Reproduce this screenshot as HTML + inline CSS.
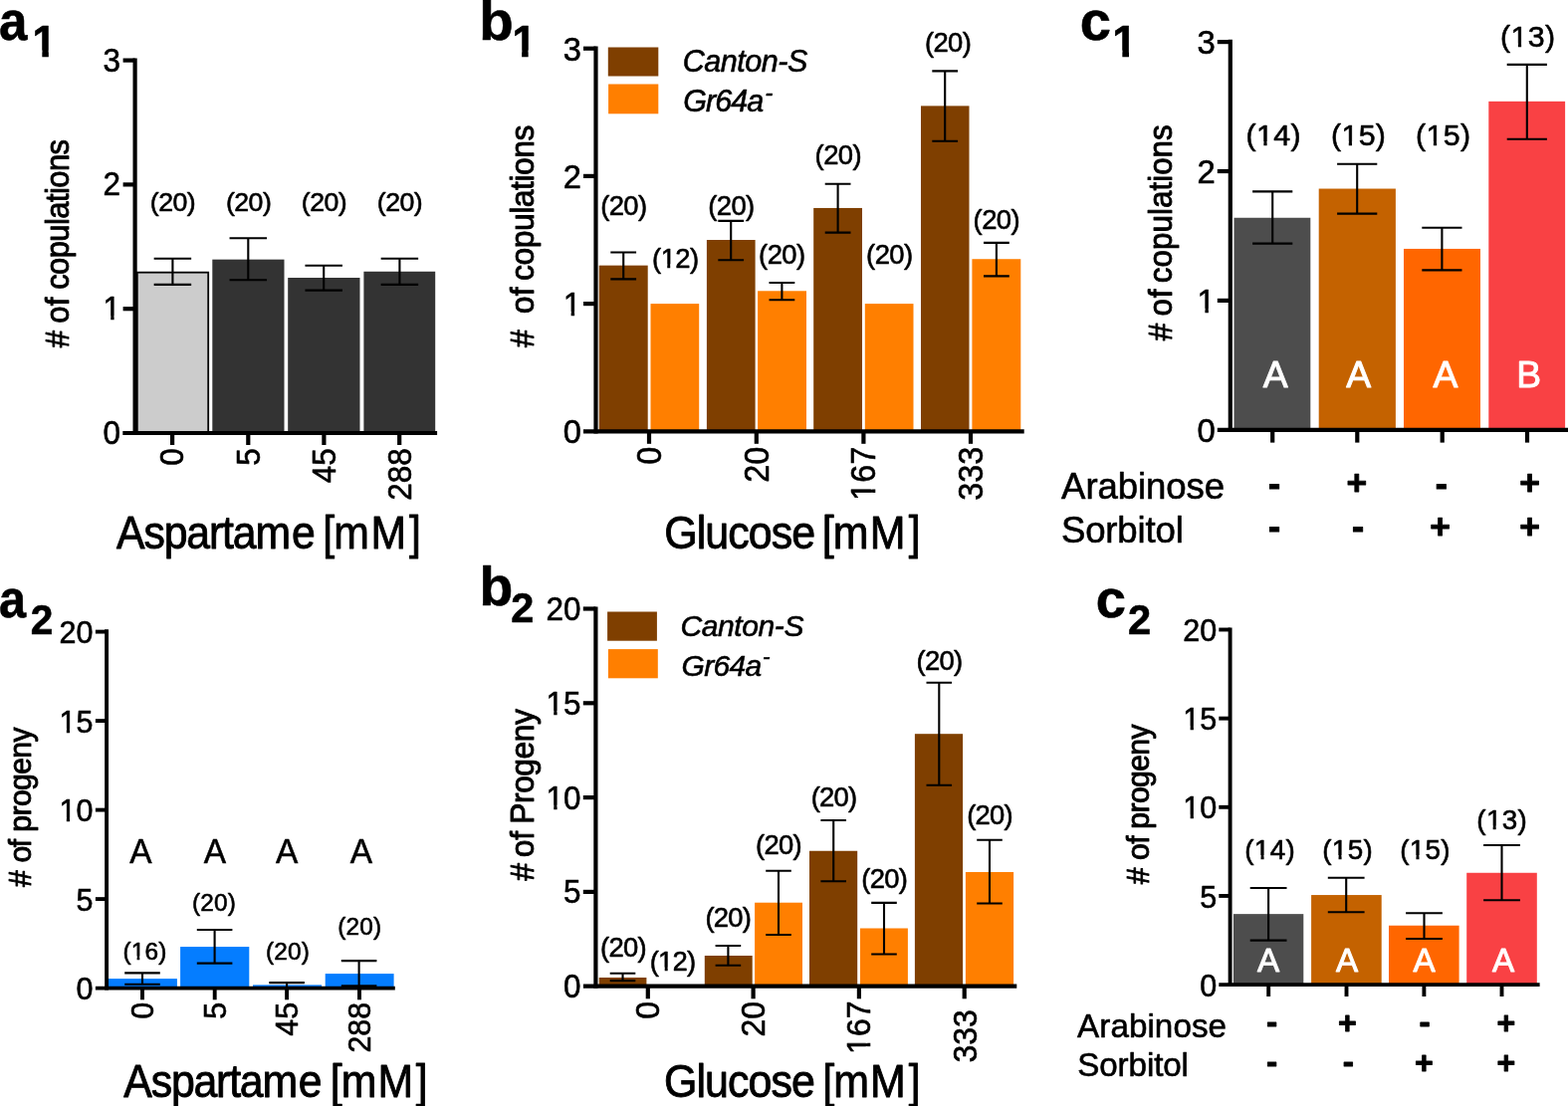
<!DOCTYPE html>
<html lang="en">
<head>
<meta charset="utf-8">
<title>Figure</title>
<style>
html,body{margin:0;padding:0;background:#fff;}
body{width:1575px;height:1111px;overflow:hidden;}
svg{display:block;font-family:'Liberation Sans', sans-serif;}
text{fill:#000;stroke:#000;stroke-linejoin:round;}
text.w{fill:#fff;stroke:#fff;}
</style>
</head>
<body>
<svg width="1575" height="1111" viewBox="0 0 1575 1111" font-family="'Liberation Sans', sans-serif" stroke-width="0.6">
<rect width="1575" height="1111" fill="#fff"/>
<text transform="translate(-1.03 39.80) scale(0.9237 1)" font-size="55.30" font-weight="bold">a</text>
<g transform="translate(32.60 56.60) scale(0.9657 1)"><text font-size="44.50" font-weight="bold">1</text><rect x="1.15" y="-6.11" width="8.93" height="8.11" fill="#fff"/><rect x="16.80" y="-6.11" width="8.35" height="8.11" fill="#fff"/></g>
<rect x="137.80" y="273.66" width="71.40" height="161.34" fill="#cccccc" stroke="#000" stroke-width="1.8"/>
<rect x="213.30" y="260.65" width="72.20" height="174.35" fill="#333333"/>
<rect x="289.20" y="279.00" width="72.30" height="156.00" fill="#333333"/>
<rect x="365.40" y="272.76" width="71.80" height="162.24" fill="#333333"/>
<line x1="135.60" y1="58.50" x2="135.60" y2="437.10" stroke="#000" stroke-width="4.2"/>
<line x1="123.30" y1="435.00" x2="439.10" y2="435.00" stroke="#000" stroke-width="4.2"/>
<line x1="123.60" y1="60.60" x2="135.60" y2="60.60" stroke="#000" stroke-width="4.2"/>
<line x1="123.60" y1="185.40" x2="135.60" y2="185.40" stroke="#000" stroke-width="4.2"/>
<line x1="123.60" y1="310.20" x2="135.60" y2="310.20" stroke="#000" stroke-width="4.2"/>
<line x1="173.10" y1="435.00" x2="173.10" y2="447.00" stroke="#000" stroke-width="4.2"/>
<line x1="249.30" y1="435.00" x2="249.30" y2="447.00" stroke="#000" stroke-width="4.2"/>
<line x1="325.40" y1="435.00" x2="325.40" y2="447.00" stroke="#000" stroke-width="4.2"/>
<line x1="401.20" y1="435.00" x2="401.20" y2="447.00" stroke="#000" stroke-width="4.2"/>
<path d="M154.65 259.70H192.15M154.65 285.90H192.15M173.40 259.70V285.90" fill="none" stroke="#000" stroke-width="2.1"/>
<path d="M230.55 239.20H268.05M230.55 281.30H268.05M249.30 239.20V281.30" fill="none" stroke="#000" stroke-width="2.1"/>
<path d="M306.45 266.70H343.95M306.45 291.60H343.95M325.20 266.70V291.60" fill="none" stroke="#000" stroke-width="2.1"/>
<path d="M382.65 259.70H420.15M382.65 285.90H420.15M401.40 259.70V285.90" fill="none" stroke="#000" stroke-width="2.1"/>
<text transform="translate(150.83 211.70)" font-size="26.70" letter-spacing="-0.533">(20)</text>
<text transform="translate(226.93 211.70)" font-size="26.70" letter-spacing="-0.533">(20)</text>
<text transform="translate(302.83 211.70)" font-size="26.70" letter-spacing="-0.533">(20)</text>
<text transform="translate(378.83 211.70)" font-size="26.70" letter-spacing="-0.533">(20)</text>
<text transform="translate(103.62 71.61) scale(0.9650 1)" font-size="32.60">3</text>
<text transform="translate(103.62 196.41) scale(0.9650 1)" font-size="32.60">2</text>
<g transform="translate(103.62 321.21) scale(0.9650 1)"><text font-size="32.60">1</text><rect x="0.82" y="-3.84" width="7.07" height="5.84" fill="#fff"/><rect x="11.37" y="-3.84" width="6.81" height="5.84" fill="#fff"/></g>
<text transform="translate(103.62 446.01) scale(0.9650 1)" font-size="32.60">0</text>
<text transform="translate(184.31 467.68) rotate(-90) scale(0.9650 1)" font-size="32.60">0</text>
<text transform="translate(260.61 467.68) rotate(-90) scale(0.9650 1)" font-size="32.60">5</text>
<text transform="translate(336.61 485.18) rotate(-90) scale(0.9650 1)" font-size="32.60">45</text>
<text transform="translate(412.51 502.67) rotate(-90) scale(0.9650 1)" font-size="32.60">288</text>
<text transform="translate(69.00 349.20) rotate(-90) scale(0.9500 1)" font-size="32.60" stroke-width="0.9"><tspan># </tspan><tspan x="25.72" letter-spacing="0.337">of </tspan><tspan x="61.41" letter-spacing="-0.598">copulations</tspan></text>
<text transform="translate(117.04 551.00) scale(0.9200 1)" font-size="46.50" stroke-width="0.9"><tspan letter-spacing="-1.236">Aspartam</tspan><tspan x="191.29">e </tspan><tspan x="225.23" letter-spacing="-0.897">[m</tspan><tspan x="277.58" letter-spacing="3.170">M]</tspan></text>
<text transform="translate(481.13 40.00) scale(1.0078 1)" font-size="56.00" font-weight="bold">b</text>
<g transform="translate(514.40 56.60) scale(0.9657 1)"><text font-size="44.50" font-weight="bold">1</text><rect x="1.15" y="-6.11" width="8.93" height="8.11" fill="#fff"/><rect x="16.80" y="-6.11" width="8.35" height="8.11" fill="#fff"/></g>
<rect x="601.70" y="266.64" width="49.00" height="166.66" fill="#7f3f00"/>
<rect x="653.50" y="305.10" width="48.70" height="128.20" fill="#ff7f00"/>
<rect x="709.90" y="241.00" width="48.70" height="192.30" fill="#7f3f00"/>
<rect x="761.10" y="292.28" width="48.90" height="141.02" fill="#ff7f00"/>
<rect x="817.20" y="208.95" width="48.80" height="224.35" fill="#7f3f00"/>
<rect x="868.80" y="305.10" width="48.70" height="128.20" fill="#ff7f00"/>
<rect x="925.00" y="106.39" width="48.50" height="326.91" fill="#7f3f00"/>
<rect x="976.40" y="260.23" width="48.90" height="173.07" fill="#ff7f00"/>
<line x1="598.50" y1="46.40" x2="598.50" y2="435.40" stroke="#000" stroke-width="4.2"/>
<line x1="586.00" y1="433.30" x2="1028.70" y2="433.30" stroke="#000" stroke-width="4.2"/>
<line x1="586.00" y1="48.70" x2="598.50" y2="48.70" stroke="#000" stroke-width="4.2"/>
<line x1="586.00" y1="176.90" x2="598.50" y2="176.90" stroke="#000" stroke-width="4.2"/>
<line x1="586.00" y1="305.10" x2="598.50" y2="305.10" stroke="#000" stroke-width="4.2"/>
<line x1="652.00" y1="433.30" x2="652.00" y2="445.80" stroke="#000" stroke-width="4.2"/>
<line x1="759.80" y1="433.30" x2="759.80" y2="445.80" stroke="#000" stroke-width="4.2"/>
<line x1="867.40" y1="433.30" x2="867.40" y2="445.80" stroke="#000" stroke-width="4.2"/>
<line x1="975.00" y1="433.30" x2="975.00" y2="445.80" stroke="#000" stroke-width="4.2"/>
<path d="M613.30 253.50H639.10M613.30 280.40H639.10M626.20 253.50V280.40" fill="none" stroke="#000" stroke-width="2.1"/>
<path d="M721.30 221.90H747.10M721.30 261.20H747.10M734.20 221.90V261.20" fill="none" stroke="#000" stroke-width="2.1"/>
<path d="M772.50 284.00H798.30M772.50 301.30H798.30M785.40 284.00V301.30" fill="none" stroke="#000" stroke-width="2.1"/>
<path d="M828.70 184.70H854.50M828.70 233.60H854.50M841.60 184.70V233.60" fill="none" stroke="#000" stroke-width="2.1"/>
<path d="M936.30 71.40H962.10M936.30 141.80H962.10M949.20 71.40V141.80" fill="none" stroke="#000" stroke-width="2.1"/>
<path d="M988.00 243.90H1013.80M988.00 277.40H1013.80M1000.90 243.90V277.40" fill="none" stroke="#000" stroke-width="2.1"/>
<text transform="translate(603.19 216.00)" font-size="27.40" letter-spacing="-0.586">(20)</text>
<g transform="translate(655.09 268.80)"><text font-size="27.40" letter-spacing="-0.586">(12)</text><rect x="9.02" y="-3.44" width="6.12" height="5.44" fill="#fff"/><rect x="18.13" y="-3.44" width="5.90" height="5.44" fill="#fff"/></g>
<text transform="translate(711.29 216.00)" font-size="27.40" letter-spacing="-0.586">(20)</text>
<text transform="translate(762.09 265.20)" font-size="27.40" letter-spacing="-0.586">(20)</text>
<text transform="translate(818.59 164.70)" font-size="27.40" letter-spacing="-0.586">(20)</text>
<text transform="translate(870.09 265.00)" font-size="27.40" letter-spacing="-0.586">(20)</text>
<text transform="translate(928.89 52.00)" font-size="27.40" letter-spacing="-0.586">(20)</text>
<text transform="translate(977.59 230.40)" font-size="27.40" letter-spacing="-0.586">(20)</text>
<text transform="translate(565.73 60.53) scale(0.9650 1)" font-size="33.80">3</text>
<text transform="translate(565.73 188.73) scale(0.9650 1)" font-size="33.80">2</text>
<g transform="translate(565.73 316.93) scale(0.9650 1)"><text font-size="33.80">1</text><rect x="0.91" y="-3.94" width="7.28" height="5.94" fill="#fff"/><rect x="11.78" y="-3.94" width="7.01" height="5.94" fill="#fff"/></g>
<text transform="translate(565.73 445.13) scale(0.9650 1)" font-size="33.80">0</text>
<text transform="translate(663.84 466.75) rotate(-90) scale(0.9250 1)" font-size="35.00">0</text>
<text transform="translate(771.64 484.76) rotate(-90) scale(0.9250 1)" font-size="35.00">20</text>
<g transform="translate(878.84 502.76) rotate(-90) scale(0.9250 1)"><text font-size="35.00">167</text><rect x="0.93" y="-4.03" width="7.55" height="6.03" fill="#fff"/><rect x="12.20" y="-4.03" width="7.27" height="6.03" fill="#fff"/></g>
<text transform="translate(986.84 502.76) rotate(-90) scale(0.9250 1)" font-size="35.00">333</text>
<rect x="610.80" y="47.50" width="50.50" height="29.00" fill="#7f3f00"/>
<rect x="611.10" y="84.50" width="50.20" height="29.80" fill="#ff7f00"/>
<text transform="translate(685.72 71.90)" font-size="30.50" letter-spacing="-0.473" font-style="italic">Canton-S</text>
<text transform="translate(686.27 112.10)" font-size="30.50" font-style="italic"><tspan letter-spacing="-0.955">Gr64a</tspan><tspan x="82.20" dy="-11.20" font-size="23.30">-</tspan></text>
<text transform="translate(535.50 348.91) rotate(-90) scale(0.9500 1)" font-size="33.60" stroke-width="0.9"><tspan># </tspan><tspan x="35.48" letter-spacing="0.280">of </tspan><tspan x="70.53" letter-spacing="-0.539">copulations</tspan></text>
<text transform="translate(667.20 551.00) scale(0.9200 1)" font-size="46.70" stroke-width="0.9"><tspan letter-spacing="-1.031">Glucose </tspan><tspan x="172.22" letter-spacing="-0.766">[m</tspan><tspan x="224.46" letter-spacing="3.631">M]</tspan></text>
<text transform="translate(1084.75 40.20) scale(1.0127 1)" font-size="55.50" font-weight="bold">c</text>
<g transform="translate(1117.31 56.70) scale(0.9954 1)"><text font-size="44.50" font-weight="bold">1</text><rect x="1.20" y="-6.11" width="8.89" height="8.11" fill="#fff"/><rect x="16.79" y="-6.11" width="8.31" height="8.11" fill="#fff"/></g>
<rect x="1239.50" y="218.76" width="76.80" height="213.04" fill="#4d4d4d"/>
<rect x="1324.70" y="189.54" width="77.20" height="242.26" fill="#c46200"/>
<rect x="1410.00" y="249.94" width="77.00" height="181.86" fill="#ff6600"/>
<rect x="1495.30" y="101.85" width="76.80" height="329.95" fill="#f94144"/>
<line x1="1235.80" y1="39.70" x2="1235.80" y2="433.90" stroke="#000" stroke-width="4.2"/>
<line x1="1222.80" y1="431.80" x2="1575.00" y2="431.80" stroke="#000" stroke-width="4.2"/>
<line x1="1222.80" y1="42.10" x2="1235.80" y2="42.10" stroke="#000" stroke-width="4.2"/>
<line x1="1222.80" y1="172.00" x2="1235.80" y2="172.00" stroke="#000" stroke-width="4.2"/>
<line x1="1222.80" y1="301.90" x2="1235.80" y2="301.90" stroke="#000" stroke-width="4.2"/>
<line x1="1278.20" y1="431.80" x2="1278.20" y2="444.60" stroke="#000" stroke-width="4.2"/>
<line x1="1363.30" y1="431.80" x2="1363.30" y2="444.60" stroke="#000" stroke-width="4.2"/>
<line x1="1448.70" y1="431.80" x2="1448.70" y2="444.60" stroke="#000" stroke-width="4.2"/>
<line x1="1534.00" y1="431.80" x2="1534.00" y2="444.60" stroke="#000" stroke-width="4.2"/>
<path d="M1258.10 192.40H1298.30M1258.10 244.60H1298.30M1278.20 192.40V244.60" fill="none" stroke="#000" stroke-width="2.1"/>
<path d="M1343.10 164.70H1383.30M1343.10 214.60H1383.30M1363.20 164.70V214.60" fill="none" stroke="#000" stroke-width="2.1"/>
<path d="M1428.30 228.80H1468.50M1428.30 271.40H1468.50M1448.40 228.80V271.40" fill="none" stroke="#000" stroke-width="2.1"/>
<path d="M1513.70 64.90H1553.90M1513.70 139.80H1553.90M1533.80 64.90V139.80" fill="none" stroke="#000" stroke-width="2.1"/>
<g transform="translate(1251.61 145.70)"><text font-size="30.30" letter-spacing="0.348">(14)</text><rect x="11.14" y="-3.66" width="6.62" height="5.66" fill="#fff"/><rect x="21.02" y="-3.66" width="6.38" height="5.66" fill="#fff"/></g>
<g transform="translate(1337.01 145.70)"><text font-size="30.30" letter-spacing="0.348">(15)</text><rect x="11.14" y="-3.66" width="6.62" height="5.66" fill="#fff"/><rect x="21.02" y="-3.66" width="6.38" height="5.66" fill="#fff"/></g>
<g transform="translate(1422.11 145.70)"><text font-size="30.30" letter-spacing="0.348">(15)</text><rect x="11.14" y="-3.66" width="6.62" height="5.66" fill="#fff"/><rect x="21.02" y="-3.66" width="6.38" height="5.66" fill="#fff"/></g>
<g transform="translate(1507.11 47.30)"><text font-size="30.30" letter-spacing="0.348">(13)</text><rect x="11.14" y="-3.66" width="6.62" height="5.66" fill="#fff"/><rect x="21.02" y="-3.66" width="6.38" height="5.66" fill="#fff"/></g>
<text transform="translate(1268.75 389.00)" font-size="37.30" class="w" stroke-width="0.9">A</text>
<text transform="translate(1352.35 389.00)" font-size="37.30" class="w" stroke-width="0.9">A</text>
<text transform="translate(1439.55 389.00)" font-size="37.30" class="w" stroke-width="0.9">A</text>
<text transform="translate(1523.29 389.00)" font-size="37.30" class="w" stroke-width="0.9">B</text>
<text transform="translate(1202.43 54.00) scale(0.9650 1)" font-size="34.00">3</text>
<text transform="translate(1202.43 183.90) scale(0.9650 1)" font-size="34.00">2</text>
<g transform="translate(1202.43 313.80) scale(0.9650 1)"><text font-size="34.00">1</text><rect x="0.93" y="-3.95" width="7.32" height="5.95" fill="#fff"/><rect x="11.85" y="-3.95" width="7.05" height="5.95" fill="#fff"/></g>
<text transform="translate(1202.43 443.70) scale(0.9650 1)" font-size="34.00">0</text>
<text transform="translate(1066.11 501.40)" font-size="36.60" letter-spacing="-0.103">Arabinose</text>
<text transform="translate(1065.95 544.90)" font-size="36.60" letter-spacing="-0.171">Sorbitol</text>
<text transform="translate(1273.94 498.27)" font-size="36.44" font-weight="bold" style="stroke-width:1.0px">-</text>
<text transform="translate(1352.55 497.07)" font-size="35.40" font-weight="bold" style="stroke-width:0.9px">+</text>
<text transform="translate(1441.64 498.27)" font-size="36.44" font-weight="bold" style="stroke-width:1.0px">-</text>
<text transform="translate(1526.15 497.07)" font-size="35.40" font-weight="bold" style="stroke-width:0.9px">+</text>
<text transform="translate(1273.94 540.97)" font-size="36.44" font-weight="bold" style="stroke-width:1.0px">-</text>
<text transform="translate(1357.94 540.97)" font-size="36.44" font-weight="bold" style="stroke-width:1.0px">-</text>
<text transform="translate(1436.25 540.67)" font-size="35.40" font-weight="bold" style="stroke-width:0.9px">+</text>
<text transform="translate(1526.15 540.67)" font-size="35.40" font-weight="bold" style="stroke-width:0.9px">+</text>
<text transform="translate(1177.00 342.21) rotate(-90) scale(0.9500 1)" font-size="33.00" stroke-width="0.9"><tspan># </tspan><tspan x="26.03" letter-spacing="0.861">of </tspan><tspan x="61.08" letter-spacing="0.044">copulations</tspan></text>
<text transform="translate(-0.96 620.40) scale(0.9091 1)" font-size="53.50" font-weight="bold">a</text>
<text transform="translate(30.68 637.20) scale(0.9626 1)" font-size="42.20" font-weight="bold">2</text>
<rect x="108.90" y="983.11" width="69.00" height="9.49" fill="#057dff"/>
<rect x="181.10" y="951.07" width="69.20" height="41.53" fill="#057dff"/>
<rect x="254.00" y="989.38" width="69.10" height="3.22" fill="#057dff"/>
<rect x="326.70" y="978.10" width="68.90" height="14.50" fill="#057dff"/>
<line x1="107.10" y1="632.35" x2="107.10" y2="994.55" stroke="#000" stroke-width="3.9"/>
<line x1="95.90" y1="992.60" x2="396.80" y2="992.60" stroke="#000" stroke-width="3.9"/>
<line x1="95.90" y1="634.60" x2="107.10" y2="634.60" stroke="#000" stroke-width="3.9"/>
<line x1="95.90" y1="724.10" x2="107.10" y2="724.10" stroke="#000" stroke-width="3.9"/>
<line x1="95.90" y1="813.60" x2="107.10" y2="813.60" stroke="#000" stroke-width="3.9"/>
<line x1="95.90" y1="903.10" x2="107.10" y2="903.10" stroke="#000" stroke-width="3.9"/>
<line x1="143.00" y1="992.60" x2="143.00" y2="1004.30" stroke="#000" stroke-width="3.9"/>
<line x1="215.70" y1="992.60" x2="215.70" y2="1004.30" stroke="#000" stroke-width="3.9"/>
<line x1="288.10" y1="992.60" x2="288.10" y2="1004.30" stroke="#000" stroke-width="3.9"/>
<line x1="361.00" y1="992.60" x2="361.00" y2="1004.30" stroke="#000" stroke-width="3.9"/>
<path d="M125.20 977.40H160.80M125.20 988.70H160.80M143.00 977.40V988.70" fill="none" stroke="#000" stroke-width="2.1"/>
<path d="M197.80 934.00H233.40M197.80 967.60H233.40M215.60 934.00V967.60" fill="none" stroke="#000" stroke-width="2.1"/>
<path d="M270.30 987.10H305.90M270.30 992.00H305.90M288.10 987.10V992.00" fill="none" stroke="#000" stroke-width="2.1"/>
<path d="M342.80 965.10H378.40M342.80 990.30H378.40M360.60 965.10V990.30" fill="none" stroke="#000" stroke-width="2.1"/>
<g transform="translate(123.48 963.60)"><text font-size="24.40" letter-spacing="0.136">(16)</text><rect x="8.52" y="-3.20" width="5.59" height="5.20" fill="#fff"/><rect x="16.84" y="-3.20" width="5.39" height="5.20" fill="#fff"/></g>
<text transform="translate(193.08 915.00)" font-size="24.40" letter-spacing="0.136">(20)</text>
<text transform="translate(266.97 964.20)" font-size="24.40" letter-spacing="0.136">(20)</text>
<text transform="translate(339.27 939.20)" font-size="24.40" letter-spacing="0.136">(20)</text>
<text transform="translate(130.33 866.60) scale(0.9700 1)" font-size="34.50">A</text>
<text transform="translate(204.83 866.60) scale(0.9700 1)" font-size="34.50">A</text>
<text transform="translate(277.03 866.60) scale(0.9700 1)" font-size="34.50">A</text>
<text transform="translate(351.63 866.60) scale(0.9700 1)" font-size="34.50">A</text>
<text transform="translate(59.45 646.10) scale(0.9900 1)" font-size="30.80">20</text>
<g transform="translate(59.45 735.60) scale(0.9900 1)"><text font-size="30.80">15</text><rect x="0.72" y="-3.70" width="6.72" height="5.70" fill="#fff"/><rect x="10.75" y="-3.70" width="6.48" height="5.70" fill="#fff"/></g>
<g transform="translate(59.45 825.10) scale(0.9900 1)"><text font-size="30.80">10</text><rect x="0.72" y="-3.70" width="6.72" height="5.70" fill="#fff"/><rect x="10.75" y="-3.70" width="6.48" height="5.70" fill="#fff"/></g>
<text transform="translate(76.41 914.60) scale(0.9900 1)" font-size="30.80">5</text>
<text transform="translate(76.41 1004.10) scale(0.9900 1)" font-size="30.80">0</text>
<text transform="translate(153.64 1023.74) rotate(-90) scale(0.9650 1)" font-size="31.50">0</text>
<text transform="translate(226.74 1023.74) rotate(-90) scale(0.9650 1)" font-size="31.50">5</text>
<text transform="translate(298.64 1040.64) rotate(-90) scale(0.9650 1)" font-size="31.50">45</text>
<text transform="translate(371.54 1057.55) rotate(-90) scale(0.9650 1)" font-size="31.50">288</text>
<text transform="translate(31.30 891.00) rotate(-90) scale(0.9700 1)" font-size="31.00" stroke-width="0.9"><tspan># </tspan><tspan x="25.23" letter-spacing="-1.408">of </tspan><tspan x="57.01" letter-spacing="-0.574">progeny</tspan></text>
<text transform="translate(124.34 1102.20) scale(0.9200 1)" font-size="46.60" stroke-width="0.9"><tspan letter-spacing="-1.343">Aspartam</tspan><tspan x="190.74">e </tspan><tspan x="225.55" letter-spacing="-1.212">[m</tspan><tspan x="277.36" letter-spacing="2.857">M]</tspan></text>
<text transform="translate(481.61 608.40) scale(0.9866 1)" font-size="56.00" font-weight="bold">b</text>
<text transform="translate(513.35 624.90) scale(0.9822 1)" font-size="42.20" font-weight="bold">2</text>
<rect x="601.70" y="981.98" width="47.70" height="8.72" fill="#7f3f00"/>
<rect x="707.80" y="959.98" width="47.90" height="30.72" fill="#7f3f00"/>
<rect x="758.10" y="906.71" width="47.90" height="83.99" fill="#ff7f00"/>
<rect x="813.00" y="854.76" width="48.20" height="135.94" fill="#7f3f00"/>
<rect x="864.00" y="932.49" width="47.90" height="58.21" fill="#ff7f00"/>
<rect x="918.90" y="737.20" width="48.20" height="253.50" fill="#7f3f00"/>
<rect x="969.90" y="875.99" width="48.20" height="114.71" fill="#ff7f00"/>
<line x1="598.40" y1="609.60" x2="598.40" y2="992.80" stroke="#000" stroke-width="4.2"/>
<line x1="585.90" y1="990.70" x2="1021.30" y2="990.70" stroke="#000" stroke-width="4.2"/>
<line x1="585.80" y1="611.50" x2="598.40" y2="611.50" stroke="#000" stroke-width="4.2"/>
<line x1="585.80" y1="706.30" x2="598.40" y2="706.30" stroke="#000" stroke-width="4.2"/>
<line x1="585.80" y1="801.10" x2="598.40" y2="801.10" stroke="#000" stroke-width="4.2"/>
<line x1="585.80" y1="895.90" x2="598.40" y2="895.90" stroke="#000" stroke-width="4.2"/>
<line x1="650.80" y1="990.70" x2="650.80" y2="1003.30" stroke="#000" stroke-width="4.2"/>
<line x1="756.60" y1="990.70" x2="756.60" y2="1003.30" stroke="#000" stroke-width="4.2"/>
<line x1="862.90" y1="990.70" x2="862.90" y2="1003.30" stroke="#000" stroke-width="4.2"/>
<line x1="968.70" y1="990.70" x2="968.70" y2="1003.30" stroke="#000" stroke-width="4.2"/>
<path d="M612.70 977.70H638.30M612.70 985.10H638.30M625.50 977.70V985.10" fill="none" stroke="#000" stroke-width="2.1"/>
<path d="M718.60 950.00H744.20M718.60 969.80H744.20M731.40 950.00V969.80" fill="none" stroke="#000" stroke-width="2.1"/>
<path d="M769.20 874.70H794.80M769.20 939.00H794.80M782.00 874.70V939.00" fill="none" stroke="#000" stroke-width="2.1"/>
<path d="M824.40 824.00H850.00M824.40 885.20H850.00M837.20 824.00V885.20" fill="none" stroke="#000" stroke-width="2.1"/>
<path d="M875.20 906.90H900.80M875.20 958.50H900.80M888.00 906.90V958.50" fill="none" stroke="#000" stroke-width="2.1"/>
<path d="M930.50 685.70H956.10M930.50 788.80H956.10M943.30 685.70V788.80" fill="none" stroke="#000" stroke-width="2.1"/>
<path d="M981.20 843.70H1006.80M981.20 907.50H1006.80M994.00 843.70V907.50" fill="none" stroke="#000" stroke-width="2.1"/>
<text transform="translate(603.09 961.30)" font-size="27.40" letter-spacing="-0.719">(20)</text>
<g transform="translate(652.69 975.10)"><text font-size="27.40" letter-spacing="-0.719">(12)</text><rect x="8.89" y="-3.44" width="6.12" height="5.44" fill="#fff"/><rect x="18.00" y="-3.44" width="5.90" height="5.44" fill="#fff"/></g>
<text transform="translate(708.39 931.30)" font-size="27.40" letter-spacing="-0.719">(20)</text>
<text transform="translate(758.99 858.10)" font-size="27.40" letter-spacing="-0.719">(20)</text>
<text transform="translate(814.69 810.40)" font-size="27.40" letter-spacing="-0.719">(20)</text>
<text transform="translate(865.29 892.10)" font-size="27.40" letter-spacing="-0.719">(20)</text>
<text transform="translate(920.49 672.70)" font-size="27.40" letter-spacing="-0.719">(20)</text>
<text transform="translate(971.19 828.20)" font-size="27.40" letter-spacing="-0.719">(20)</text>
<text transform="translate(548.62 622.91) scale(0.9650 1)" font-size="32.60">20</text>
<g transform="translate(548.62 717.71) scale(0.9650 1)"><text font-size="32.60">15</text><rect x="0.82" y="-3.84" width="7.07" height="5.84" fill="#fff"/><rect x="11.37" y="-3.84" width="6.81" height="5.84" fill="#fff"/></g>
<g transform="translate(548.62 812.51) scale(0.9650 1)"><text font-size="32.60">10</text><rect x="0.82" y="-3.84" width="7.07" height="5.84" fill="#fff"/><rect x="11.37" y="-3.84" width="6.81" height="5.84" fill="#fff"/></g>
<text transform="translate(566.12 907.31) scale(0.9650 1)" font-size="32.60">5</text>
<text transform="translate(566.12 1002.11) scale(0.9650 1)" font-size="32.60">0</text>
<text transform="translate(662.10 1023.64) rotate(-90) scale(0.9400 1)" font-size="34.00">0</text>
<text transform="translate(767.90 1041.41) rotate(-90) scale(0.9400 1)" font-size="34.00">20</text>
<g transform="translate(873.60 1058.89) rotate(-90) scale(0.9400 1)"><text font-size="34.00">167</text><rect x="0.88" y="-3.95" width="7.35" height="5.95" fill="#fff"/><rect x="11.86" y="-3.95" width="7.08" height="5.95" fill="#fff"/></g>
<text transform="translate(980.50 1067.59) rotate(-90) scale(0.9400 1)" font-size="34.00">333</text>
<rect x="610.10" y="614.50" width="49.80" height="29.20" fill="#7f3f00"/>
<rect x="610.90" y="652.10" width="49.90" height="29.20" fill="#ff7f00"/>
<text transform="translate(683.55 639.40)" font-size="30.00" letter-spacing="-0.405" font-style="italic">Canton-S</text>
<text transform="translate(684.50 679.40)" font-size="30.00" font-style="italic"><tspan letter-spacing="-0.693">Gr64a</tspan><tspan x="81.62" dy="-12.20" font-size="22.52">-</tspan></text>
<text transform="translate(536.30 884.71) rotate(-90) scale(0.9500 1)" font-size="33.50" stroke-width="0.9"><tspan># </tspan><tspan x="24.64" letter-spacing="-0.272">of </tspan><tspan x="60.04" letter-spacing="-0.515">Progeny</tspan></text>
<text transform="translate(667.10 1102.20) scale(0.9200 1)" font-size="46.70" stroke-width="0.9"><tspan letter-spacing="-1.049">Glucose </tspan><tspan x="173.09" letter-spacing="-1.092">[m</tspan><tspan x="224.79" letter-spacing="3.196">M]</tspan></text>
<text transform="translate(1100.73 620.40) scale(1.0066 1)" font-size="54.00" font-weight="bold">c</text>
<text transform="translate(1132.94 637.30) scale(0.9872 1)" font-size="42.20" font-weight="bold">2</text>
<rect x="1238.90" y="918.14" width="70.40" height="70.96" fill="#4d4d4d"/>
<rect x="1317.10" y="899.06" width="70.60" height="90.04" fill="#c46200"/>
<rect x="1395.00" y="929.73" width="70.60" height="59.37" fill="#ff6600"/>
<rect x="1473.20" y="876.77" width="70.60" height="112.33" fill="#f94144"/>
<line x1="1235.60" y1="630.45" x2="1235.60" y2="991.05" stroke="#000" stroke-width="3.9"/>
<line x1="1224.30" y1="989.10" x2="1546.60" y2="989.10" stroke="#000" stroke-width="3.9"/>
<line x1="1224.30" y1="632.50" x2="1235.60" y2="632.50" stroke="#000" stroke-width="3.9"/>
<line x1="1224.30" y1="721.65" x2="1235.60" y2="721.65" stroke="#000" stroke-width="3.9"/>
<line x1="1224.30" y1="810.80" x2="1235.60" y2="810.80" stroke="#000" stroke-width="3.9"/>
<line x1="1224.30" y1="899.95" x2="1235.60" y2="899.95" stroke="#000" stroke-width="3.9"/>
<line x1="1274.20" y1="989.10" x2="1274.20" y2="1001.00" stroke="#000" stroke-width="3.9"/>
<line x1="1352.50" y1="989.10" x2="1352.50" y2="1001.00" stroke="#000" stroke-width="3.9"/>
<line x1="1430.40" y1="989.10" x2="1430.40" y2="1001.00" stroke="#000" stroke-width="3.9"/>
<line x1="1508.50" y1="989.10" x2="1508.50" y2="1001.00" stroke="#000" stroke-width="3.9"/>
<path d="M1255.70 892.00H1292.50M1255.70 944.60H1292.50M1274.10 892.00V944.60" fill="none" stroke="#000" stroke-width="2.1"/>
<path d="M1333.80 881.70H1370.60M1333.80 916.20H1370.60M1352.20 881.70V916.20" fill="none" stroke="#000" stroke-width="2.1"/>
<path d="M1412.10 917.30H1448.90M1412.10 943.00H1448.90M1430.50 917.30V943.00" fill="none" stroke="#000" stroke-width="2.1"/>
<path d="M1490.10 849.00H1526.90M1490.10 904.30H1526.90M1508.50 849.00V904.30" fill="none" stroke="#000" stroke-width="2.1"/>
<g transform="translate(1250.26 862.50)"><text font-size="27.80" letter-spacing="0.327">(14)</text><rect x="10.10" y="-3.47" width="6.18" height="5.47" fill="#fff"/><rect x="19.32" y="-3.47" width="5.96" height="5.47" fill="#fff"/></g>
<g transform="translate(1328.26 862.50)"><text font-size="27.80" letter-spacing="0.327">(15)</text><rect x="10.10" y="-3.47" width="6.18" height="5.47" fill="#fff"/><rect x="19.32" y="-3.47" width="5.96" height="5.47" fill="#fff"/></g>
<g transform="translate(1406.16 862.50)"><text font-size="27.80" letter-spacing="0.327">(15)</text><rect x="10.10" y="-3.47" width="6.18" height="5.47" fill="#fff"/><rect x="19.32" y="-3.47" width="5.96" height="5.47" fill="#fff"/></g>
<g transform="translate(1483.36 833.00)"><text font-size="27.80" letter-spacing="0.327">(13)</text><rect x="10.10" y="-3.47" width="6.18" height="5.47" fill="#fff"/><rect x="19.32" y="-3.47" width="5.96" height="5.47" fill="#fff"/></g>
<text transform="translate(1263.12 976.40)" font-size="33.20" class="w" stroke-width="0.9">A</text>
<text transform="translate(1342.12 976.40)" font-size="33.20" class="w" stroke-width="0.9">A</text>
<text transform="translate(1419.52 976.40)" font-size="33.20" class="w" stroke-width="0.9">A</text>
<text transform="translate(1499.02 976.40)" font-size="33.20" class="w" stroke-width="0.9">A</text>
<text transform="translate(1188.25 644.10) scale(0.9900 1)" font-size="30.80">20</text>
<g transform="translate(1188.25 733.25) scale(0.9900 1)"><text font-size="30.80">15</text><rect x="0.72" y="-3.70" width="6.72" height="5.70" fill="#fff"/><rect x="10.75" y="-3.70" width="6.48" height="5.70" fill="#fff"/></g>
<g transform="translate(1188.25 822.40) scale(0.9900 1)"><text font-size="30.80">10</text><rect x="0.72" y="-3.70" width="6.72" height="5.70" fill="#fff"/><rect x="10.75" y="-3.70" width="6.48" height="5.70" fill="#fff"/></g>
<text transform="translate(1205.21 911.55) scale(0.9900 1)" font-size="30.80">5</text>
<text transform="translate(1205.21 1000.70) scale(0.9900 1)" font-size="30.80">0</text>
<text transform="translate(1082.12 1041.70)" font-size="33.20" letter-spacing="0.054">Arabinose</text>
<text transform="translate(1082.21 1081.30)" font-size="33.20" letter-spacing="-0.107">Sorbitol</text>
<text transform="translate(1271.90 1038.25)" font-size="33.66" font-weight="bold" style="stroke-width:0.9px">-</text>
<text transform="translate(1344.11 1037.67)" font-size="32.10" font-weight="bold" style="stroke-width:0.85px">+</text>
<text transform="translate(1425.60 1038.25)" font-size="33.66" font-weight="bold" style="stroke-width:0.9px">-</text>
<text transform="translate(1503.51 1037.67)" font-size="32.10" font-weight="bold" style="stroke-width:0.85px">+</text>
<text transform="translate(1271.90 1078.35)" font-size="33.66" font-weight="bold" style="stroke-width:0.9px">-</text>
<text transform="translate(1348.80 1078.35)" font-size="33.66" font-weight="bold" style="stroke-width:0.9px">-</text>
<text transform="translate(1421.01 1077.67)" font-size="32.10" font-weight="bold" style="stroke-width:0.85px">+</text>
<text transform="translate(1503.51 1077.67)" font-size="32.10" font-weight="bold" style="stroke-width:0.85px">+</text>
<text transform="translate(1154.40 888.20) rotate(-90) scale(0.9700 1)" font-size="31.00" stroke-width="0.9"><tspan># </tspan><tspan x="25.02" letter-spacing="-0.480">of </tspan><tspan x="57.21" letter-spacing="-0.574">progeny</tspan></text>
</svg>
</body>
</html>
